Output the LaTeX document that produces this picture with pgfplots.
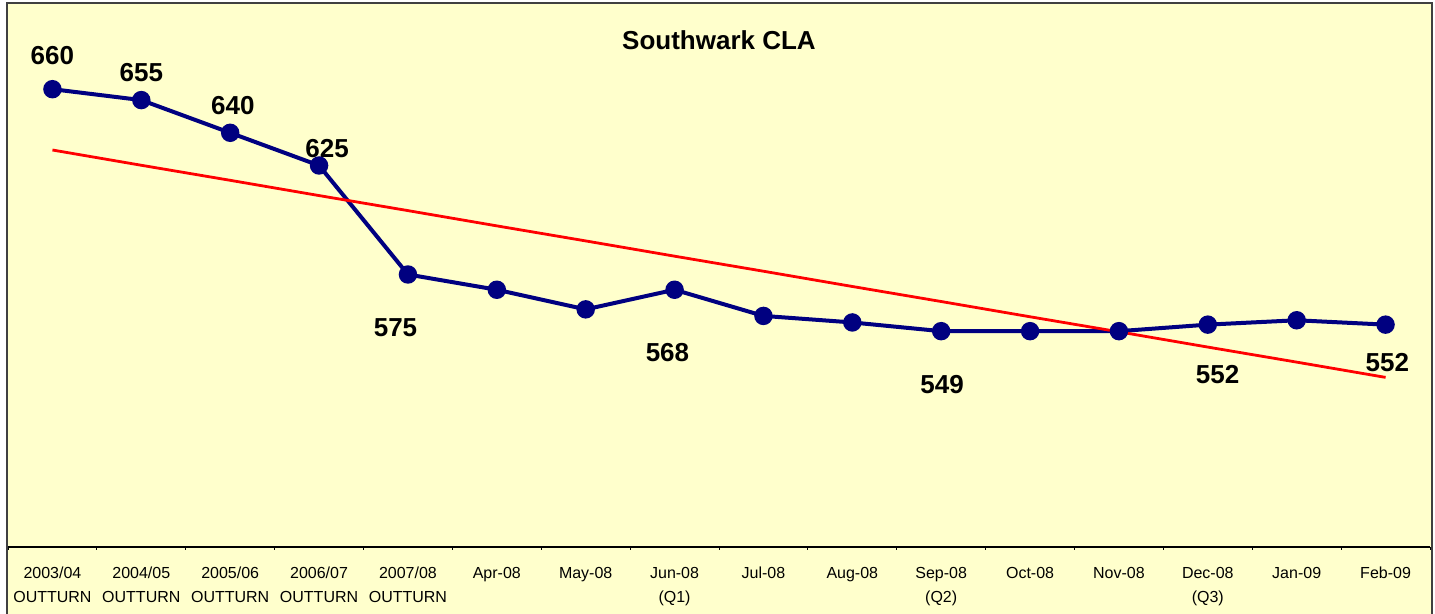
\documentclass[border=0pt]{standalone}
\usepackage{pgfplots}
\pgfplotsset{compat=1.18}
\usepackage{fontspec}
\setmainfont{Liberation Sans}
\definecolor{bg}{HTML}{FFFFCC}
\definecolor{navy}{HTML}{000080}
\begin{document}
\begin{tikzpicture}
\path[use as bounding box] (0,0) rectangle (717.5pt,307pt);
\fill[bg] (3.5pt,-5pt) rectangle (716pt,305.5pt);
\draw[line width=1pt, black!75] (3.5pt,-5pt) -- (3.5pt,305.5pt) -- (716pt,305.5pt) -- (716pt,-5pt);
\begin{axis}[
  at={(4pt,33.5pt)}, anchor=south west,
  scale only axis, width=711pt, height=272.5pt,
  xmin=-0.5, xmax=15.5, ymin=450, ymax=700,
  axis x line*=bottom, hide y axis,
  x axis line style={-, black, line width=0.6pt},
  xtick={0,...,15},
  xticklabels={{2003/04\\OUTTURN},{2004/05\\OUTTURN},{2005/06\\OUTTURN},{2006/07\\OUTTURN},{2007/08\\OUTTURN},
    {Apr-08},{May-08},{Jun-08\\(Q1)},{Jul-08},{Aug-08},{Sep-08\\(Q2)},{Oct-08},{Nov-08},{Dec-08\\(Q3)},{Jan-09},{Feb-09}},
  major tick length=0pt,
  minor xtick={-0.5,0.5,...,15.5},
  minor tick length=1.5pt,
  tick align=outside,
  tick style={black, line width=0.5pt},
  xticklabel style={align=center, font=\fontsize{8}{12}\selectfont, yshift=-6.5pt},
  clip=false,
]
\addplot[navy, line width=2pt, mark=*, mark size=3.6pt, mark options={fill=navy, draw=navy}]
  coordinates {(0,660)(1,655)(2,640)(3,625)(4,575)(5,568)(6,559)(7,568)(8,556)(9,553)(10,549)(11,549)(12,549)(13,552)(14,554)(15,552)};
\addplot[red, line width=1.4pt]
  coordinates {(0,632.1)(1,625.1)(2,618.2)(3,611.2)(4,604.3)(5,597.3)(6,590.4)(7,583.4)(8,576.5)(9,569.5)(10,562.6)(11,555.6)(12,548.7)(13,541.7)(14,534.8)(15,527.8)};
\begin{scope}[every node/.style={font=\fontsize{13}{15}\selectfont\bfseries, inner sep=0pt}]
\node at (axis cs:0,675.3) {660};
\node at (axis cs:1.0,667.5) {655};
\node at (axis cs:2.03,652.6) {640};
\node at (axis cs:3.09,632.7) {625};
\node at (axis cs:3.86,550.5) {575};
\node at (axis cs:6.92,539.0) {568};
\node at (axis cs:10.01,524.3) {549};
\node at (axis cs:13.11,528.9) {552};
\node at (axis cs:15.02,534.4) {552};
\end{scope}
\end{axis}
\node[font=\fontsize{13}{15}\selectfont\bfseries] at (359.5pt,287pt) {Southwark CLA};
\end{tikzpicture}
\end{document}
